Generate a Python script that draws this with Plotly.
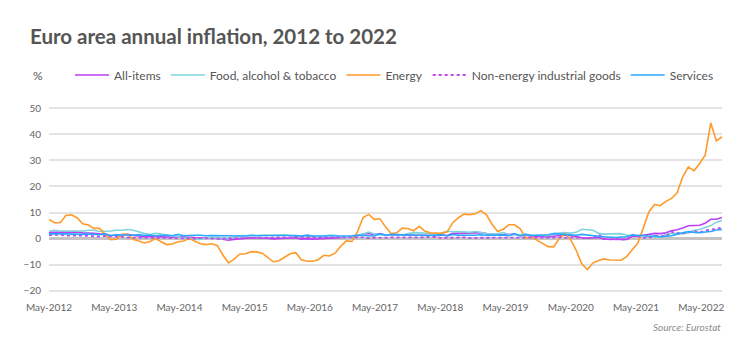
import plotly.graph_objects as go

# ---- data: monthly annual rates, May-2012 .. May-2022 (121 months) ----
all_items = [
    2.4, 2.4, 2.4, 2.6, 2.6, 2.5, 2.2, 2.2,
    2.0, 1.8, 1.7, 1.2, 1.4, 1.6, 1.6, 1.3, 1.1, 0.7, 0.9, 0.8,
    0.8, 0.7, 0.5, 0.7, 0.5, 0.5, 0.4, 0.4, 0.3, 0.4, 0.3, -0.2,
    -0.6, -0.3, -0.1, 0.0, 0.3, 0.2, 0.2, 0.1, -0.1, 0.1, 0.1, 0.2,
    0.3, -0.2, 0.0, -0.2, -0.1, 0.1, 0.2, 0.2, 0.4, 0.5, 0.6, 1.1,
    1.7, 2.0, 1.5, 1.9, 1.4, 1.3, 1.3, 1.5, 1.5, 1.4, 1.5, 1.4,
    1.3, 1.1, 1.4, 1.2, 2.0, 2.0, 2.1, 2.0, 2.1, 2.3, 1.9, 1.5,
    1.4, 1.5, 1.4, 1.7, 1.2, 1.3, 1.0, 1.0, 0.8, 0.7, 1.0, 1.3,
    1.4, 1.2, 0.7, 0.3, 0.1, 0.3, 0.4, -0.2, -0.3, -0.3, -0.3, -0.3,
    0.9, 0.9, 1.3, 1.6, 2.0, 1.9, 2.2, 3.0, 3.4, 4.1, 4.9, 5.0,
    5.1, 5.9, 7.4, 7.4, 8.1,
]
food = [
    2.8, 3.2, 2.9, 3.0, 2.9, 2.9, 2.8, 3.2,
    3.2, 2.7, 2.7, 2.9, 3.2, 3.2, 3.5, 3.2, 2.6, 1.9, 1.6, 2.0,
    1.7, 1.5, 1.0, 0.7, 0.1, 0.2, -0.3, -0.3, 0.3, 0.5, 0.5, 0.0,
    0.0, 0.5, 1.0, 1.1, 1.2, 1.3, 1.2, 1.3, 1.3, 1.3, 1.5, 1.2,
    0.8, 0.8, 0.8, 0.8, 0.9, 0.9, 1.4, 1.3, 0.7, 0.5, 0.7, 1.2,
    1.7, 2.5, 1.8, 1.5, 1.5, 1.4, 1.4, 1.4, 1.9, 2.3, 2.2, 2.1,
    1.9, 1.0, 2.1, 2.8, 2.6, 2.7, 2.5, 2.4, 2.7, 2.2, 1.9, 1.8,
    1.8, 2.3, 1.5, 1.5, 1.6, 1.6, 1.4, 1.3, 1.0, 1.1, 1.9, 2.0,
    2.3, 2.1, 2.4, 3.6, 3.4, 3.2, 2.0, 1.7, 1.8, 1.9, 1.9, 1.3,
    1.4, 1.3, 1.1, 0.7, 0.6, 0.5, 1.6, 2.0, 2.0, 1.9, 2.2, 3.2,
    3.5, 4.2, 5.0, 6.3, 7.0,
]
energy = [
    7.3, 6.1, 6.1, 8.9, 9.1, 8.0, 5.7, 5.2,
    3.9, 3.9, 1.7, -0.4, -0.2, 1.6, 1.6, -0.3, -0.9, -1.7, -1.1, 0.0,
    -1.2, -2.3, -2.1, -1.2, -0.9, 0.1, -1.0, -2.0, -2.3, -2.0, -2.6, -6.3,
    -9.3, -7.9, -6.0, -5.8, -5.1, -5.1, -5.6, -7.2, -8.9, -8.5, -7.3, -5.8,
    -5.4, -8.1, -8.7, -8.7, -8.1, -6.4, -6.7, -5.6, -3.0, -0.9, -1.1, 2.6,
    8.1, 9.3, 7.4, 7.6, 4.5, 1.9, 2.2, 4.0, 3.9, 3.0, 4.7, 2.9,
    2.2, 2.1, 2.0, 2.6, 6.1, 8.0, 9.4, 9.2, 9.5, 10.7, 9.1, 5.5,
    2.7, 3.6, 5.3, 5.3, 3.8, 0.2, 0.5, -0.6, -1.8, -3.1, -3.2, 0.2,
    1.9, -0.3, -4.5, -9.7, -11.9, -9.3, -8.4, -7.8, -8.2, -8.2, -8.3, -6.9,
    -4.2, -1.7, 4.3, 10.4, 13.1, 12.6, 14.3, 15.4, 17.6, 23.7, 27.5, 26.0,
    28.8, 32.0, 44.4, 37.5, 39.1,
]
non_energy_goods = [
    1.3, 1.3, 1.5, 1.1, 1.2, 1.1, 1.1, 1.0,
    0.8, 0.8, 1.0, 0.8, 0.8, 0.7, 0.4, 0.4, 0.4, 0.3, 0.3, 0.3,
    0.2, 0.4, 0.2, 0.1, 0.0, -0.1, 0.0, 0.3, 0.2, -0.1, -0.1, 0.0,
    0.0, -0.1, -0.1, 0.1, 0.3, 0.3, 0.4, 0.4, 0.3, 0.5, 0.5, 0.5,
    0.7, 0.7, 0.5, 0.5, 0.4, 0.4, 0.4, 0.3, 0.3, 0.3, 0.3, 0.3,
    0.5, 0.2, 0.3, 0.3, 0.3, 0.4, 0.5, 0.5, 0.5, 0.4, 0.4, 0.5,
    0.7, 0.6, 0.2, 0.3, 0.3, 0.4, 0.5, 0.3, 0.3, 0.4, 0.4, 0.4,
    0.3, 0.4, 0.2, 0.2, 0.3, 0.2, 0.4, 0.3, 0.3, 0.3, 0.4, 0.5,
    0.3, 0.5, 0.5, 0.3, 0.2, 0.2, 1.6, -0.1, -0.3, -0.1, -0.3, -0.5,
    1.5, 1.0, 0.3, 0.4, 0.7, 1.2, 0.7, 2.6, 2.1, 2.0, 2.4, 2.9,
    2.3, 3.1, 3.4, 3.8, 4.2,
]
services = [
    1.8, 1.7, 1.8, 1.8, 1.7, 1.7, 1.6, 1.8,
    1.6, 1.5, 1.8, 1.1, 1.5, 1.4, 1.4, 1.3, 1.5, 1.2, 1.4, 1.0,
    1.2, 1.3, 1.1, 1.6, 1.1, 1.3, 1.3, 1.3, 1.1, 1.2, 1.2, 1.2,
    1.0, 1.2, 1.0, 1.0, 1.3, 1.1, 1.2, 1.2, 1.3, 1.2, 1.1, 1.1,
    1.2, 1.0, 1.4, 1.0, 1.0, 1.1, 1.2, 1.1, 1.1, 1.1, 1.1, 1.3,
    1.2, 1.3, 1.0, 1.8, 1.3, 1.6, 1.5, 1.6, 1.5, 1.2, 1.2, 1.2,
    1.2, 1.3, 1.5, 1.0, 1.6, 1.3, 1.4, 1.3, 1.3, 1.5, 1.3, 1.3,
    1.2, 1.4, 1.1, 1.9, 1.0, 1.6, 1.2, 1.3, 1.5, 1.5, 1.9, 1.8,
    1.5, 1.6, 1.3, 1.6, 1.3, 1.2, 0.9, 0.7, 0.5, 0.4, 0.6, 0.7,
    1.4, 1.2, 1.3, 0.9, 1.1, 0.7, 0.9, 1.1, 1.7, 2.1, 2.7, 2.4,
    2.3, 2.5, 2.7, 3.3, 3.5,
]
tick_labels = ["May-2012", "May-2013", "May-2014", "May-2015", "May-2016", "May-2017",
               "May-2018", "May-2019", "May-2020", "May-2021", "May-2022"]
y_ticks = [-20, -10, 0, 10, 20, 30, 40, 50]

months = list(range(len(all_items)))

FONT = "Lato"
TXT = "#555555"

series = [
    ("All-items", all_items, "#bd3ef5", "solid", 1.6),
    ("Food, alcohol & tobacco", food, "#7ed3dd", "solid", 1.6),
    ("Energy", energy, "#ff9a2a", "solid", 1.6),
    ("Non-energy industrial goods", non_energy_goods, "#c546ee", "dot", 1.8),
    ("Services", services, "#2aa8ff", "solid", 1.6),
]

fig = go.Figure()
for name, vals, col, dash, w in series:
    fig.add_trace(go.Scatter(
        x=months, y=vals, mode="lines", name=name,
        line=dict(color=col, width=w, dash=dash),
    ))

n = len(months) - 1
step = 116.3 / (len(tick_labels) - 1)
tick_pos = [i * step for i in range(len(tick_labels))]

# page has an 8px body margin; target screen coordinates below
OFF = 8
W, H = 750 - OFF, 364 - OFF
PT, PB, PL, PR = 107, 292, 49, 722  # plot area on screen
def py(y):
    return (PB - y) / (PB - PT)
def px(x):
    return (x - PL) / (PR - PL)
def cy(y):
    return 1 - (y - OFF) / H
def cx(x):
    return (x - OFF) / W

fig.update_layout(
    width=W, height=H,
    margin=dict(l=PL - OFF, r=750 - PR, t=PT - OFF, b=364 - PB),
    paper_bgcolor="white", plot_bgcolor="white",
    font=dict(family=FONT, color=TXT, size=11),
    title=dict(text="<b>Euro area annual inflation, 2012 to 2022</b>",
               x=cx(30), xref="container", xanchor="left",
               y=cy(37), yref="container", yanchor="middle",
               font=dict(family=FONT, size=20.5, color=TXT)),
    showlegend=True,
    legend=dict(orientation="h", x=px(70), xanchor="left", y=cy(75),
                yref="container", yanchor="middle",
                font=dict(family=FONT, size=12, color=TXT),
                itemwidth=34, tracegroupgap=0, bgcolor="rgba(0,0,0,0)"),
    xaxis=dict(range=[0, n], tickmode="array", tickvals=tick_pos, ticktext=tick_labels,
               showgrid=False, zeroline=False, showline=False, ticks="",
               tickfont=dict(size=10, color="#666666"), ticklabelstandoff=8,
               fixedrange=True),
    yaxis=dict(range=[-20.5, 50.5], tickmode="array", tickvals=y_ticks,
               showgrid=True, gridcolor="#e3e3e3", gridwidth=2,
               zeroline=True, zerolinecolor="#c4c4c4", zerolinewidth=2.5,
               showline=False, ticks="", ticklabelstandoff=7,
               tickfont=dict(size=10, color="#666666"), fixedrange=True),
    annotations=[
        dict(text="%", xref="paper", yref="paper", x=px(38), y=py(75),
             xanchor="center", yanchor="middle", showarrow=False,
             font=dict(family=FONT, size=12, color=TXT)),
        dict(text="<i>Source: Eurostat</i>", xref="paper", yref="paper",
             x=px(723), y=py(327), xanchor="right", yanchor="middle", showarrow=False,
             font=dict(family=FONT, size=10, color="#8a8a8a")),
    ],
)

fig.write_html("out.html")
